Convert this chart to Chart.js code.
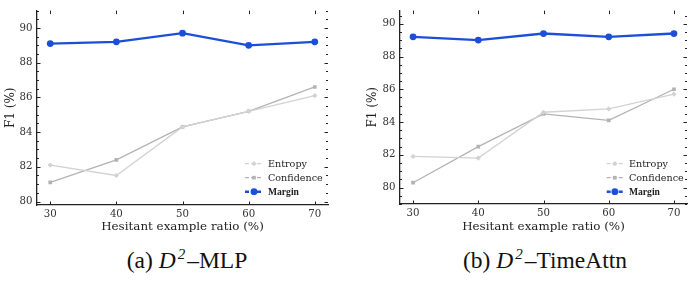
<!DOCTYPE html>
<html>
<head>
<meta charset="utf-8">
<script src="https://cdn.jsdelivr.net/npm/chart.js@4.4.1/dist/chart.umd.min.js"></script>
<style>
  html, body { margin: 0; padding: 0; background: #fff; }
  body { width: 691px; height: 285px; position: relative; overflow: hidden; }
  .wrap { position: absolute; top: 0; height: 240px; }
  .cap { position: absolute; font-family: "Liberation Serif", "Times New Roman", serif; font-size: 23.5px; color: #111; white-space: nowrap; transform: translateX(-50%); top: 248px; line-height: 24px; }
  .cap sup { font-size: 15px; vertical-align: 0; position: relative; top: -9px; margin-left: 2px; margin-right: 2px; }
</style>
</head>
<body>
<div class="wrap" style="left:0;width:345px;"><canvas id="c1" width="345" height="240"></canvas></div>
<div class="wrap" style="left:345px;width:346px;"><canvas id="c2" width="346" height="240"></canvas></div>
<div class="cap" style="left:187px;">(a) <i>D</i><sup><i>2</i></sup>–MLP</div>
<div class="cap" style="left:545px;">(b) <i>D</i><sup><i>2</i></sup>–TimeAttn</div>
<script>
// ---- data ----
const ratios = [30, 40, 50, 60, 70];
const seriesNames = ["Entropy", "Confidence", "Margin"];
const mlpEntropy    = [82.1, 81.5, 84.3, 85.2, 86.1];
const mlpConfidence = [81.1, 82.4, 84.3, 85.2, 86.6];
const mlpMargin     = [89.1, 89.2, 89.7, 89.0, 89.2];
const attnEntropy    = [81.9, 81.8, 84.6, 84.8, 85.7];
const attnConfidence = [80.3, 82.5, 84.5, 84.1, 86.0];
const attnMargin     = [89.2, 89.0, 89.4, 89.2, 89.4];
const yTicks = [80, 82, 84, 86, 88, 90];
const xLabel = "Hesitant example ratio (%)";
const yLabel = "F1 (%)";

const FONT = "DejaVu Serif";
const BLUE = "#1b4fd8";
const ENT = "#d2d2d2";
const CONF = "#b3b3b3";

function pts(vals) { return ratios.map((r, i) => ({x: r, y: vals[i]})); }

function makeDatasets(ent, conf, mar) {
  return [
    {label: seriesNames[0], data: pts(ent), borderColor: ENT, backgroundColor: ENT, borderWidth: 1.3,
     pointStyle: 'rectRot', pointRadius: 2.6, pointBorderWidth: 0, legendDash: [4, 2]},
    {label: seriesNames[1], data: pts(conf), borderColor: CONF, backgroundColor: CONF, borderWidth: 1.3,
     pointStyle: 'rect', pointRadius: 2.6, pointBorderWidth: 0, legendDash: [4, 2]},
    {label: seriesNames[2], data: pts(mar), borderColor: BLUE, backgroundColor: BLUE, borderWidth: 2.4,
     pointStyle: 'circle', pointRadius: 3.4, pointBorderWidth: 0, legendDash: [4, 2], legendBold: true}
  ];
}

const mplTicks = {
  id: 'mplTicks',
  afterDraw(chart) {
    const {ctx, chartArea: a, scales: {x, y}} = chart;
    ctx.save();
    ctx.strokeStyle = '#222';
    ctx.lineWidth = 1;
    for (let v = Math.ceil(y.min * 2) / 2; v <= y.max + 1e-9; v += 0.5) {
      const py = Math.round(y.getPixelForValue(v)) + 0.5;
      const major = Math.abs(v / 2 - Math.round(v / 2)) < 1e-6;
      const L = major ? 3.5 : 2;
      ctx.beginPath();
      ctx.moveTo(a.left, py); ctx.lineTo(a.left + L, py);
      ctx.moveTo(a.right, py); ctx.lineTo(a.right - L, py);
      ctx.stroke();
    }
    ratios.forEach(r => {
      const px = Math.round(x.getPixelForValue(r)) + 0.5;
      ctx.beginPath();
      ctx.moveTo(px, a.bottom); ctx.lineTo(px, a.bottom - 3.5);
      ctx.moveTo(px, a.top); ctx.lineTo(px, a.top + 3.5);
      ctx.stroke();
    });
    ctx.restore();
  }
};

const innerLegend = {
  id: 'innerLegend',
  afterDatasetsDraw(chart, args, opts) {
    const {ctx, chartArea: a} = chart;
    ctx.save();
    chart.data.datasets.forEach((ds, i) => {
      const yy = a.bottom - opts.rows[i];
      const x0 = a.right - opts.lineFromRight;
      const x1 = x0 + opts.lineLen;
      ctx.strokeStyle = ds.borderColor;
      ctx.lineWidth = ds.borderWidth;
      ctx.setLineDash(ds.legendDash);
      ctx.beginPath(); ctx.moveTo(x0, yy); ctx.lineTo(x1, yy); ctx.stroke();
      ctx.setLineDash([]);
      ctx.fillStyle = ds.backgroundColor;
      Chart.helpers.drawPoint(ctx, {pointStyle: ds.pointStyle, radius: ds.pointRadius, borderWidth: 0}, (x0 + x1) / 2, yy);
      ctx.fillStyle = '#222';
      ctx.font = ds.legendBold ? 'bold 9.6px "Liberation Serif"' : '9.6px "DejaVu Serif"';
      ctx.textBaseline = 'middle';
      ctx.textAlign = 'left';
      ctx.fillText(ds.label, x1 + opts.textGap, yy + 0.5);
    });
    ctx.restore();
  }
};

function makeChart(id, datasets, cfg) {
  return new Chart(document.getElementById(id), {
    type: 'line',
    data: {datasets},
    plugins: [mplTicks, innerLegend],
    options: {
      responsive: false,
      animation: false,
      layout: {padding: {top: 3, right: cfg.padRight, left: 0, bottom: 0}},
      plugins: {
        legend: {display: false}, tooltip: {enabled: false},
        innerLegend: cfg.legend
      },
      scales: {
        x: {
          type: 'linear', min: 28, max: 72,
          afterBuildTicks: s => { s.ticks = ratios.map(v => ({value: v})); },
          afterFit: s => { s.height = 240 - cfg.bottom; },
          grid: {display: false, drawTicks: false},
          border: {display: true, color: '#222', width: 1.3},
          ticks: {font: {family: FONT, size: 10.2}, color: '#333', padding: 3, maxRotation: 0,
                  callback: v => String(v)},
          title: {display: true, text: xLabel, font: {family: FONT, size: 11.9}, color: '#222', padding: {top: 0, bottom: 6}}
        },
        y: {
          type: 'linear', min: cfg.ymin, max: cfg.ymax,
          afterBuildTicks: s => { s.ticks = yTicks.map(v => ({value: v})); },
          afterFit: s => { s.width = cfg.yw; },
          grid: {display: false, drawTicks: false},
          border: {display: true, color: '#222', width: 1.3},
          ticks: {font: {family: FONT, size: 10.2}, color: '#333', padding: 4.5,
                  callback: v => String(v)},
          title: {display: true, text: yLabel, font: {family: FONT, size: 12}, color: '#222', padding: {top: cfg.ytitlePad, bottom: 0}}
        }
      }
    }
  });
}

makeChart('c1', makeDatasets(mlpEntropy, mlpConfidence, mlpMargin), {
  padRight: 17, bottom: 205, yw: 37, ymin: 79.8, ymax: 91.0, ytitlePad: 4,
  legend: {rows: [41.3, 27.3, 13.3], lineFromRight: 83, lineLen: 18, textGap: 5}
});
makeChart('c2', makeDatasets(attnEntropy, attnConfidence, attnMargin), {
  padRight: 3, bottom: 204, yw: 55, ymin: 79.0, ymax: 90.8, ytitlePad: 21,
  legend: {rows: [40.3, 26.3, 12.3], lineFromRight: 80.3, lineLen: 16.3, textGap: 6}
});
</script>
</body>
</html>
